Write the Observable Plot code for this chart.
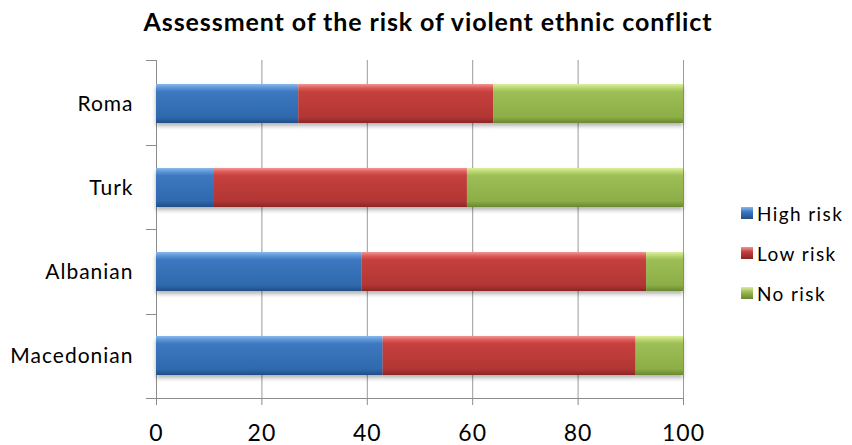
<!DOCTYPE html>
<html><head><meta charset="utf-8">
<script src="https://cdn.jsdelivr.net/npm/d3@7"></script>
<script src="https://cdn.jsdelivr.net/npm/@observablehq/plot@0.6"></script>
<style>
body{margin:0;background:#fff;font-family:Lato,sans-serif;}
#wrap{position:relative;width:852px;height:445px;overflow:hidden;background:#fff;}
#title{position:absolute;left:2px;width:852px;top:6px;text-align:center;font-weight:bold;font-size:25px;color:#000;letter-spacing:0.9px;}
#legend{position:absolute;left:741px;top:193px;}
.item{display:flex;align-items:center;height:40px;font-size:19px;letter-spacing:1.4px;color:#000;}
.sw{width:12px;height:12px;margin-right:4px;}
#defs{position:absolute;width:0;height:0;}
</style></head>
<body>
<div id="wrap">
<svg id="defs" width="0" height="0">
<defs>
<linearGradient id="gBlue" x1="0" y1="0" x2="0" y2="1">
<stop offset="0" stop-color="#8ab8ea"/><stop offset="0.1" stop-color="#5a95d6"/><stop offset="0.2" stop-color="#3c78c0"/><stop offset="0.85" stop-color="#2f69ae"/><stop offset="1" stop-color="#224e84"/>
</linearGradient>
<linearGradient id="gRed" x1="0" y1="0" x2="0" y2="1">
<stop offset="0" stop-color="#f29694"/><stop offset="0.1" stop-color="#dc5b57"/><stop offset="0.2" stop-color="#c5403d"/><stop offset="0.85" stop-color="#b23634"/><stop offset="1" stop-color="#872725"/>
</linearGradient>
<linearGradient id="gGreen" x1="0" y1="0" x2="0" y2="1">
<stop offset="0" stop-color="#dcef9e"/><stop offset="0.1" stop-color="#b9d66e"/><stop offset="0.2" stop-color="#9dbd56"/><stop offset="0.85" stop-color="#8dad47"/><stop offset="1" stop-color="#68882f"/>
</linearGradient>
<filter id="shadow" x="-5%" y="-20%" width="110%" height="160%">
<feDropShadow dx="0" dy="3" stdDeviation="2" flood-color="#000" flood-opacity="0.3"/>
</filter>
</defs>
</svg>
<div id="title">Assessment of the risk of violent ethnic conflict</div>
<div id="chart"></div>
<div id="legend"></div>
</div>
<script>
const categories = ["Roma", "Turk", "Albanian", "Macedonian"];
const seriesNames = ["High risk", "Low risk", "No risk"];
const highRisk = [27, 11, 39, 43];
const lowRisk = [37, 48, 54, 48];
const noRisk = [36, 41, 7, 9];
const xTicks = [0, 20, 40, 60, 80, 100];
const gradients = ["url(#gBlue)", "url(#gRed)", "url(#gGreen)"];
const swatchCss = [
  "linear-gradient(#8ab8ea,#3c78c0 40%,#224e84)",
  "linear-gradient(#f29694,#c5403d 40%,#872725)",
  "linear-gradient(#dcef9e,#9dbd56 40%,#68882f)"
];

const seriesValues = [highRisk, lowRisk, noRisk];
const rows = [];
seriesNames.forEach((s, si) => {
  categories.forEach((c, ci) => rows.push({category: c, series: s, value: seriesValues[si][ci]}));
});

const plot = Plot.plot({
  width: 852,
  height: 445,
  marginLeft: 156,
  marginRight: 169,
  marginTop: 60,
  marginBottom: 47,
  style: {fontFamily: "Lato, sans-serif", color: "#000", background: "transparent"},
  x: {domain: [0, 100]},
  y: {domain: categories, paddingInner: 0.54, paddingOuter: 0.27},
  color: {domain: seriesNames, range: gradients},
  marks: [
    Plot.gridX(xTicks.filter(d => d > 0), {stroke: "#9a9a9a", strokeOpacity: 1, strokeWidth: 1}),
    Plot.ruleX([0], {stroke: "#8c8c8c", strokeWidth: 1}),
    Plot.barX(rows, Plot.stackX({x: "value", y: "category", fill: "series", order: null})),
    Plot.axisX({ticks: xTicks, tickSize: 7, tickPadding: 19, stroke: "#8c8c8c", fontSize: 23, label: null, tickFormat: d => String(d)}),
    Plot.axisY({tickSize: 0, tickPadding: 23, fontSize: 21, label: null})
  ]
});
document.getElementById("chart").appendChild(plot);

const svg = d3.select(plot);
svg.selectAll("g[aria-label='bar']").attr("filter", "url(#shadow)");
svg.selectAll("g[aria-label='y-axis tick label'] text").style("letter-spacing", "1px");
svg.selectAll("g[aria-label='x-axis tick label'] text").style("letter-spacing", "1px");

// axis baseline and category-boundary ticks, from the scales
const xs = plot.scale("x"), ys = plot.scale("y");
const [x0, x1] = xs.range;
const [y0, y1] = ys.range;
svg.append("line").attr("x1", x0).attr("x2", x1).attr("y1", y1 + 0.5).attr("y2", y1 + 0.5)
  .attr("stroke", "#8c8c8c");
const n = categories.length;
for (let i = 0; i <= n; i++) {
  const yy = Math.round(y0 + i * (y1 - y0) / n) + 0.5;
  svg.append("line").attr("x1", x0 - 10).attr("x2", x0).attr("y1", yy).attr("y2", yy).attr("stroke", "#8c8c8c");
}

const legend = d3.select("#legend");
seriesNames.forEach((s, i) => {
  const it = legend.append("div").attr("class", "item");
  it.append("div").attr("class", "sw").style("background", swatchCss[i]);
  it.append("span").text(s);
});
</script>
</body></html>
